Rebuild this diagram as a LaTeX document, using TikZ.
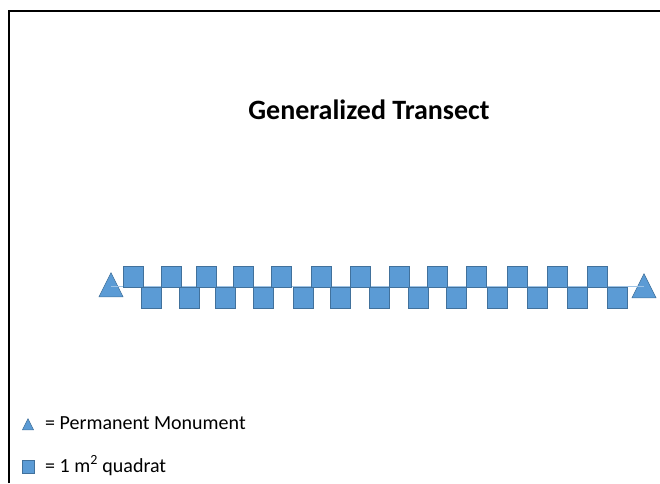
\documentclass[tikz,border=0pt]{standalone}
\usepackage{fontspec}
\setmainfont{Carlito}
\usetikzlibrary{shapes.geometric}
\definecolor{quadfill}{HTML}{5B9BD5}
\definecolor{quadline}{HTML}{41719C}
\definecolor{transect}{HTML}{9DC3E6}
\tikzset{
  quad/.style={draw=quadline, fill=quadfill, line width=0.7pt, inner sep=0pt,
    minimum width=20pt, minimum height=21pt},
  monument/.style={isosceles triangle, shape border rotate=90,
    isosceles triangle stretches, draw=quadline, fill=quadfill, line width=0.5pt,
    inner sep=0pt, minimum width=24pt, minimum height=24pt, anchor=south},
  legtext/.style={anchor=base west, inner sep=0pt, font=\fontsize{20}{24}\selectfont},
}
\begin{document}
\begin{tikzpicture}[x=1pt, y=-1pt]
\useasboundingbox (0,0) rectangle (660,483);
% frame (top and left edges)
\draw[line width=2pt] (9,483) -- (9,11) -- (660,11);
% title
\node[font=\bfseries\fontsize{28}{32}\selectfont] (title) at (369,110) {Generalized Transect};
% end monuments
\node[monument] (m1) at (111,297) {};
\node[monument] (m2) at (644,298) {};
% transect line
\coordinate (l1) at (111,286);
\coordinate (l2) at (644,286);
\draw[transect, line width=1pt] (l1) -- (l2);
% quadrats above the line
\foreach \x [count=\i] in {123,161,196,233,271,311,350,389,427,466,507,547,587}
  \node[quad] (t\i) at (\x+10,276.5) {};
% quadrats below the line
\foreach \x [count=\i] in {141,179,215,253,293,330,369,408,446,487,527,567,607}
  \node[quad] (b\i) at (\x+10,297.5) {};
% legend
\node[monument, minimum width=11pt, minimum height=11pt] (lm) at (28,430) {};
\node[legtext] (lmt) at (45,429) {= Permanent Monument};
\node[quad, minimum width=12pt, minimum height=13pt] (lq) at (28,466.5) {};
\node[legtext] (lqt) at (45,472) {= 1 m\textsuperscript{2} quadrat};
\end{tikzpicture}
\end{document}
